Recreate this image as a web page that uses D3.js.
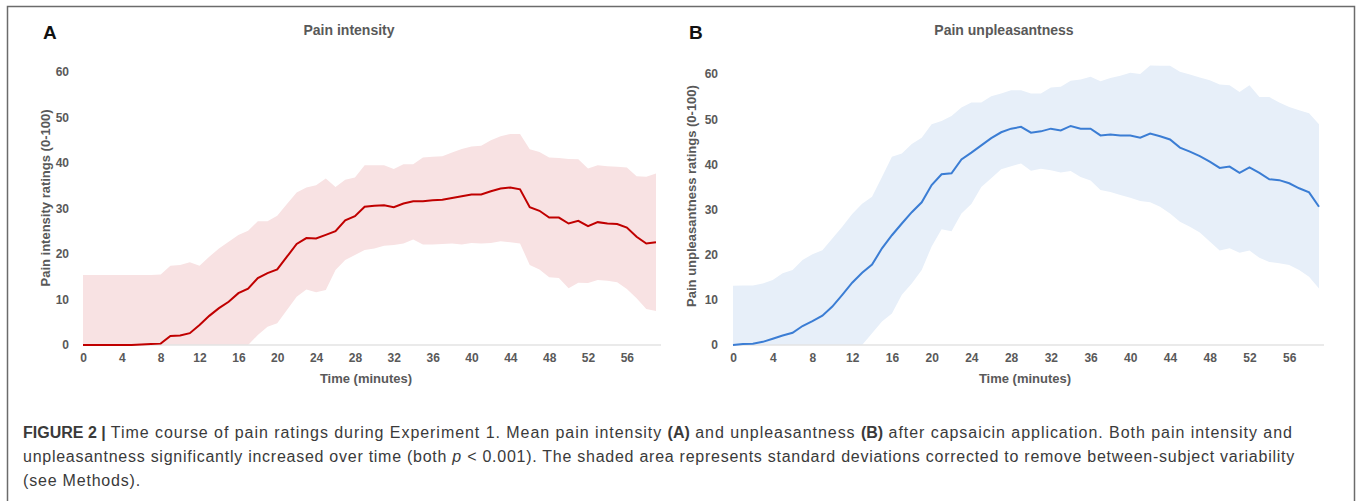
<!DOCTYPE html>
<html>
<head>
<meta charset="utf-8">
<script src="https://cdn.jsdelivr.net/npm/d3@7"></script>
<style>
  body { margin: 0; background: #fff; }
  svg text { font-family: "Liberation Sans Narrow", "Liberation Sans", Arial, sans-serif; }
  .caption { font-family: "Liberation Sans", Arial, sans-serif !important; }
</style>
</head>
<body>
<div id="chart"></div>
<script>
// minutes 0..59
var minutes = d3.range(0, 60);
var xTicks = [0, 4, 8, 12, 16, 20, 24, 28, 32, 36, 40, 44, 48, 52, 56];
var yTicks = [0, 10, 20, 30, 40, 50, 60];

// Panel A: pain intensity
var intensityMean = [0, 0, 0, 0, 0, 0, 0.1, 0.2, 0.3, 2.0, 2.1, 2.6, 4.4, 6.4, 8.1, 9.5, 11.4, 12.4, 14.7, 15.8,
  16.6, 19.4, 22.2, 23.5, 23.4, 24.2, 25.0, 27.4, 28.3, 30.4, 30.6, 30.7, 30.3, 31.1, 31.6, 31.6, 31.8, 31.9, 32.3, 32.7,
  33.1, 33.1, 33.8, 34.4, 34.6, 34.2, 30.3, 29.5, 28.0, 28.0, 26.7, 27.3, 26.1, 27.0, 26.7, 26.6, 25.8, 23.8, 22.3, 22.6];
var intensityUpper = [15.4, 15.4, 15.4, 15.4, 15.4, 15.4, 15.4, 15.4, 15.5, 17.4, 17.6, 18.2, 17.4, 19.4, 21.2, 22.7, 24.2, 25.1, 27.2, 27.2,
  28.4, 31.0, 33.5, 34.6, 35.1, 36.6, 34.7, 36.3, 36.8, 39.5, 39.5, 39.5, 38.7, 39.7, 39.7, 41.2, 41.4, 41.5, 42.3, 43.1,
  43.6, 43.8, 45.0, 45.9, 46.4, 46.4, 43.0, 42.4, 41.2, 41.1, 40.9, 40.8, 38.8, 39.5, 39.3, 39.2, 39.0, 37.1, 37.0, 37.7];
var intensityLower = [0, 0, 0, 0, 0, 0, 0, 0, 0, 0, 0, 0, 0, 0, 0, 0, 0, 0, 2.2, 4.0,
  4.8, 7.7, 10.6, 12.2, 11.6, 12.1, 16.5, 18.7, 19.8, 20.9, 21.2, 21.8, 22.0, 22.3, 23.2, 22.1, 22.1, 22.2, 22.3, 22.1,
  22.4, 22.3, 22.4, 22.8, 22.6, 22.3, 17.6, 16.6, 14.9, 14.7, 12.5, 13.7, 13.6, 14.3, 14.1, 13.8, 12.3, 10.3, 7.9, 7.5];

// Panel B: pain unpleasantness
var unpleasMean = [0, 0.2, 0.3, 0.7, 1.4, 2.1, 2.7, 4.2, 5.3, 6.5, 8.5, 11.1, 13.8, 16.0, 17.8, 21.4, 24.3, 26.9, 29.4, 31.6,
  35.4, 37.8, 38.0, 41.1, 42.6, 44.2, 45.8, 47.1, 47.9, 48.3, 47.0, 47.3, 47.9, 47.5, 48.5, 47.9, 47.9, 46.4, 46.6, 46.4,
  46.4, 45.9, 46.8, 46.2, 45.5, 43.7, 42.8, 41.8, 40.6, 39.2, 39.5, 38.1, 39.3, 38.1, 36.7, 36.5, 35.8, 34.7, 33.8, 30.6];
var unpleasUpper = [13.1, 13.2, 13.2, 13.6, 14.4, 15.9, 16.6, 18.8, 20.1, 21.0, 23.6, 26.2, 29.0, 31.3, 32.8, 37.2, 41.7, 42.4, 44.5, 45.9,
  48.9, 49.6, 50.7, 52.6, 53.7, 53.7, 55.1, 55.7, 56.4, 56.4, 55.7, 55.7, 57.0, 57.2, 58.5, 58.8, 59.4, 58.4, 59.1, 59.6,
  60.3, 60.0, 61.9, 61.8, 61.8, 60.5, 59.9, 59.2, 58.6, 57.7, 57.5, 56.0, 57.5, 54.9, 54.9, 53.7, 52.7, 52.0, 51.3, 48.9];
var unpleasLower = [0, 0, 0, 0, 0, 0, 0, 0, 0, 0, 0, 0, 0, 0, 2.6, 5.2, 7.0, 11.1, 13.6, 16.6,
  21.8, 25.6, 25.2, 29.1, 31.2, 35.0, 36.9, 38.9, 39.6, 40.2, 38.6, 39.0, 38.7, 38.2, 38.5, 37.2, 36.4, 34.3, 33.9, 33.2,
  32.6, 31.9, 31.6, 30.6, 29.1, 27.3, 26.2, 24.9, 22.9, 20.9, 21.4, 20.4, 20.9, 19.3, 18.4, 18.1, 17.7, 16.6, 15.1, 12.5];

var svg = d3.select("#chart")
  .append("svg")
    .attr("width", 1357)
    .attr("height", 501);

// frame around the figure
svg.append("path")
  .attr("d", "M7.5,501 V6.5 H1354.5 V501")
  .style("fill", "none")
  .style("stroke", "#6b6b6b")
  .style("stroke-width", 1.5);

function drawPanel(opt){
  var g = svg.append("g");

  var x = d3.scaleLinear().domain([0, 59]).range([opt.x0, opt.x1]);
  var y = d3.scaleLinear().domain([0, 60]).range([345, opt.yTop]);

  var band = d3.area()
    .x(function(d, i){ return x(minutes[i]); })
    .y0(function(d, i){ return y(Math.max(0, opt.lower[i])); })
    .y1(function(d, i){ return y(opt.upper[i]); });

  g.append("path")
    .datum(opt.upper)
    .attr("d", band)
    .style("fill", opt.bandColor);

  // baseline
  g.append("line")
    .attr("x1", opt.x0).attr("x2", opt.x1 + 5)
    .attr("y1", y(0)).attr("y2", y(0))
    .style("stroke", "#e3e3e3")
    .style("stroke-width", 1.5);

  var line = d3.line()
    .x(function(d, i){ return x(minutes[i]); })
    .y(function(d){ return y(d); });

  g.append("path")
    .datum(opt.mean)
    .attr("d", line)
    .style("fill", "none")
    .style("stroke", opt.lineColor)
    .style("stroke-width", 2);

  // axes
  var xAxis = g.append("g")
    .attr("transform", "translate(0," + 353 + ")")
    .call(d3.axisBottom(x).tickValues(xTicks).tickSize(0).tickPadding(0));
  xAxis.select(".domain").remove();
  xAxis.selectAll("text")
    .attr("dy", "0.71em")
    .style("font-size", "12px")
    .style("font-weight", "bold")
    .style("fill", "#595959");

  var yAxis = g.append("g")
    .attr("transform", "translate(" + opt.yLabelX + ",0)")
    .call(d3.axisLeft(y).tickValues(yTicks).tickSize(0).tickPadding(0));
  yAxis.select(".domain").remove();
  yAxis.selectAll("text")
    .style("font-size", "12px")
    .style("font-weight", "bold")
    .style("fill", "#595959");

  g.append("text")
    .attr("x", opt.xTitleX).attr("y", 383)
    .attr("text-anchor", "middle")
    .style("font-size", "13px")
    .style("font-weight", "bold")
    .style("fill", "#595959")
    .text("Time (minutes)");

  g.append("text")
    .attr("transform", "translate(" + opt.yTitleX + "," + opt.yTitleY + ") rotate(-90)")
    .attr("text-anchor", "middle")
    .style("font-size", "13px")
    .style("font-weight", "bold")
    .style("fill", "#595959")
    .text(opt.yTitle);

  g.append("text")
    .attr("x", opt.titleX).attr("y", 35)
    .attr("text-anchor", "middle")
    .style("font-size", "14px")
    .style("font-weight", "bold")
    .style("fill", "#595959")
    .text(opt.title);

  g.append("text")
    .attr("x", opt.letterX).attr("y", 39)
    .style("font-family", "'Liberation Sans', Arial, sans-serif")
    .style("font-size", "19px")
    .style("font-weight", "bold")
    .style("fill", "#111")
    .text(opt.letter);
}

drawPanel({
  letter: "A", letterX: 43, title: "Pain intensity", titleX: 349,
  yTitle: "Pain intensity ratings (0-100)", yTitleX: 50, yTitleY: 198,
  x0: 83, x1: 656, yTop: 72, yLabelX: 69, xTitleX: 366,
  mean: intensityMean, upper: intensityUpper, lower: intensityLower,
  lineColor: "#c00000", bandColor: "#f8e2e3"
});

drawPanel({
  letter: "B", letterX: 689, title: "Pain unpleasantness", titleX: 1004,
  yTitle: "Pain unpleasantness ratings (0-100)", yTitleX: 696, yTitleY: 196,
  x0: 733, x1: 1319, yTop: 74, yLabelX: 718, xTitleX: 1025,
  mean: unpleasMean, upper: unpleasUpper, lower: unpleasLower,
  lineColor: "#3b7dd4", bandColor: "#e7eff9"
});

// caption
var caption = svg.append("text")
  .attr("class", "caption")
  .style("font-size", "16px")
  .style("fill", "#3a3a3a");

var l1 = caption.append("tspan").attr("x", 23).attr("y", 438).style("letter-spacing", "0.95px");
l1.append("tspan").style("font-weight", "bold").style("letter-spacing", "0px").text("FIGURE 2 |");
l1.append("tspan").text(" Time course of pain ratings during Experiment 1. Mean pain intensity ");
l1.append("tspan").style("font-weight", "bold").style("letter-spacing", "0px").text("(A)");
l1.append("tspan").text(" and unpleasantness ");
l1.append("tspan").style("font-weight", "bold").style("letter-spacing", "0px").text("(B)");
l1.append("tspan").text(" after capsaicin application. Both pain intensity and");

var l2 = caption.append("tspan").attr("x", 23).attr("y", 462).style("letter-spacing", "0.74px");
l2.append("tspan").text("unpleasantness significantly increased over time (both ");
l2.append("tspan").style("font-style", "italic").text("p");
l2.append("tspan").text(" < 0.001). The shaded area represents standard deviations corrected to remove between-subject variability");

caption.append("tspan").attr("x", 23).attr("y", 486).style("letter-spacing", "0.8px").text("(see Methods).");
</script>
</body>
</html>
